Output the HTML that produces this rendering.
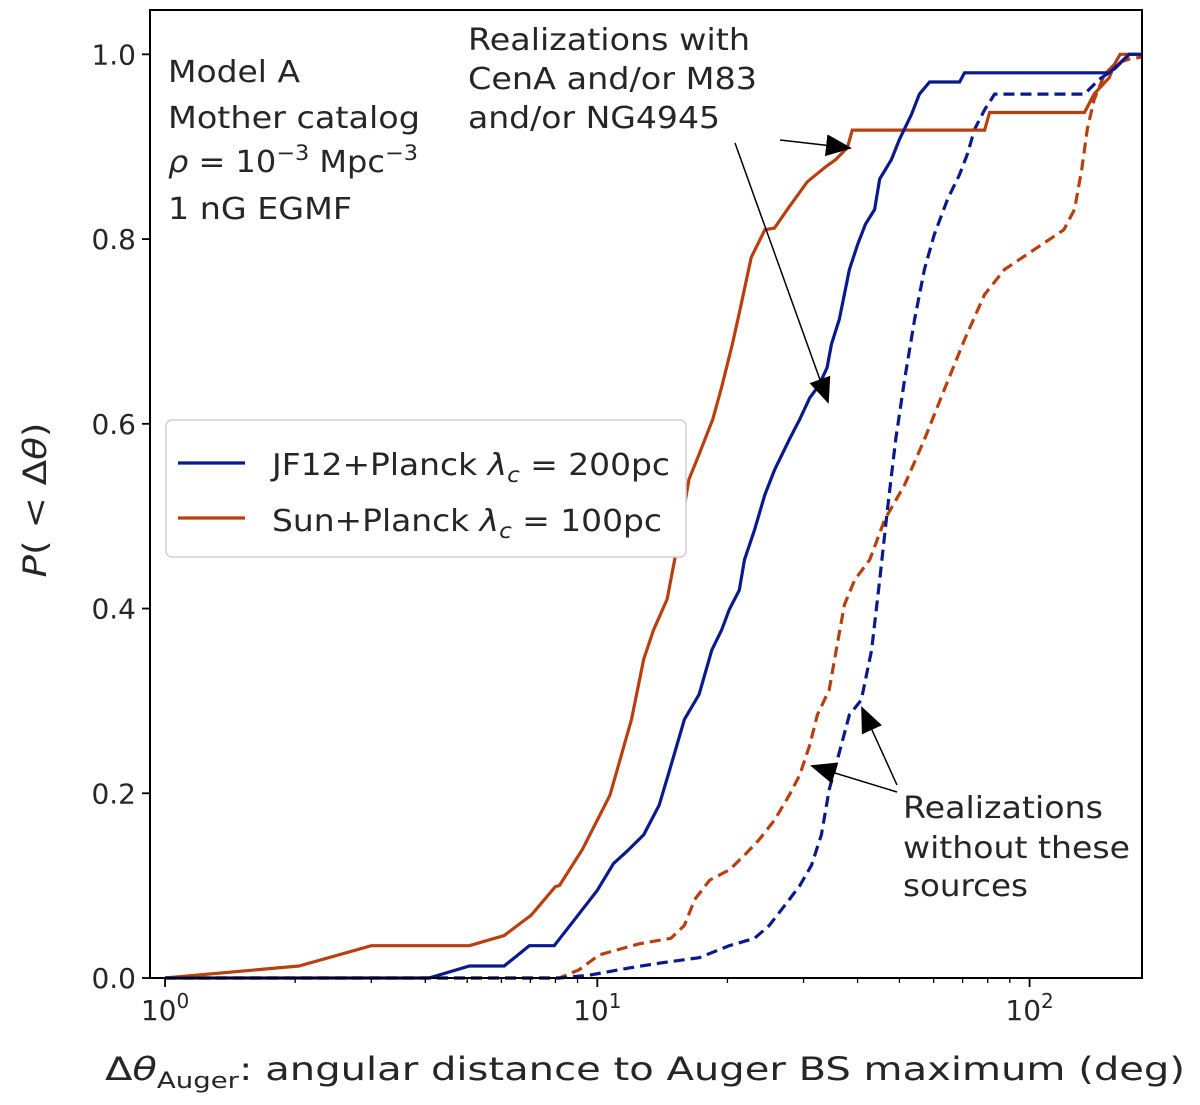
<!DOCTYPE html>
<html><head><meta charset="utf-8"><style>
html,body{margin:0;padding:0;background:#fff;}
svg text{font-family:"DejaVu Sans","Liberation Sans",sans-serif;fill:#262626;}
</style></head><body>
<svg id="chart" width="1200" height="1100" viewBox="0 0 1200 1100" xmlns="http://www.w3.org/2000/svg">
<g id="plot"></g>
</svg>
<script>
const orangeSolidX=[1,2.04,3.0,5.06,6.09,7.03,8.0,8.17,9.23,10,10.7,12.0,12.8,13.5,14.5,15.1,15.7,16.3,17.2,18.5,19.4,20.5,21.3,22.7,24.4,25.7,27.8,30.6,33.7,35.6,37.9,38.9,78.7,80.8,134,141,153,157,162,182];
const orangeSolidY=[0,0.013,0.035,0.035,0.046,0.068,0.099,0.1,0.139,0.171,0.198,0.28,0.345,0.377,0.41,0.453,0.496,0.54,0.567,0.605,0.64,0.685,0.72,0.78,0.81,0.812,0.835,0.862,0.878,0.886,0.899,0.918,0.918,0.937,0.937,0.957,0.975,0.989,1.0,1.0];
const blueSolidX=[1,4.08,5.06,6.09,6.96,7.95,8.85,10,10.9,11.7,12.8,13.9,14.7,15.9,17.2,18.4,19.4,20.2,21.3,21.9,23.1,24.4,25.7,27.8,29.4,31.0,32.6,34.0,34.8,36.3,38.3,40.0,41.7,43.8,45.0,47.9,50.0,53.3,55.6,58.7,68.9,70.7,153,170,182];
const blueSolidY=[0,0,0.013,0.013,0.035,0.035,0.063,0.095,0.124,0.137,0.155,0.187,0.225,0.28,0.307,0.355,0.377,0.399,0.42,0.453,0.485,0.523,0.55,0.583,0.605,0.628,0.642,0.661,0.686,0.713,0.767,0.794,0.816,0.832,0.865,0.886,0.908,0.935,0.957,0.97,0.97,0.98,0.98,1.0,1.0];
const blueDashX=[1,8.17,9.58,11.9,13.9,17.2,20.2,23.1,25.0,27.8,29.4,31.3,33.0,34.4,35.9,38.3,40.8,43.1,45.0,46.9,49.0,51.4,54.2,57.1,60.2,64.6,68.9,71.8,74.6,78.7,83.0,134,145,157,170,182];
const blueDashY=[0,0,0.003,0.011,0.016,0.022,0.035,0.043,0.057,0.085,0.1,0.122,0.155,0.204,0.236,0.285,0.301,0.355,0.431,0.507,0.583,0.648,0.713,0.767,0.805,0.843,0.87,0.892,0.919,0.94,0.957,0.957,0.973,0.984,1,1];
const orangeDashX=[1,8.17,9.08,10.1,12.5,14.8,15.9,16.8,18.2,20.2,21.9,23.7,25.7,27.8,29.4,31.0,32.3,34.4,35.4,37.3,39.4,42.7,46.2,51.4,57.1,63.5,70.7,78.7,87.5,102.8,120,127,132,136,141,149,157,170,182];
const orangeDashY=[0,0,0.009,0.025,0.037,0.043,0.057,0.085,0.106,0.117,0.133,0.15,0.171,0.198,0.22,0.252,0.285,0.312,0.345,0.404,0.431,0.453,0.496,0.534,0.583,0.637,0.691,0.74,0.767,0.789,0.81,0.832,0.875,0.919,0.951,0.978,0.989,0.995,0.997];
const yTicks=[0,0.2,0.4,0.6,0.8,1.0];
const yTickLabels=["0.0","0.2","0.4","0.6","0.8","1.0"];
const xMajor=[1,10,100];

const NS="http://www.w3.org/2000/svg";
const L=150,R=1142,T=10,B=978;
const xmin=0.923,xmax=182,ymin=0,ymax=1.048;
function sx(v){return L+(Math.log10(v)-Math.log10(xmin))/(Math.log10(xmax)-Math.log10(xmin))*(R-L);}
function sy(v){return B-(v-ymin)/(ymax-ymin)*(B-T);}
const svg=document.getElementById('chart');
function mk(tag,attrs,parent){const e=document.createElementNS(NS,tag);for(const k in attrs)e.setAttribute(k,attrs[k]);(parent||svg).appendChild(e);return e;}

const BLUE="#0a1a8c",ORANGE="#b8400e";
function series(xs,ys,color,dash,name){
  const d=xs.map((x,i)=>(i?'L':'M')+sx(x).toFixed(1)+','+sy(ys[i]).toFixed(1)).join(' ');
  const p=mk('path',{d:d,fill:'none',stroke:color,'stroke-width':3.2,'stroke-dasharray':dash||'none','stroke-linejoin':'miter'});
  
  
}
series(orangeDashX,orangeDashY,ORANGE,'11,6','sun-planck-without-sources-line');
series(blueDashX,blueDashY,BLUE,'11,6','jf12-planck-without-sources-line');
series(orangeSolidX,orangeSolidY,ORANGE,null,'sun-planck-line');
series(blueSolidX,blueSolidY,BLUE,null,'jf12-planck-line');

const fr=mk('rect',{x:L,y:T,width:R-L,height:B-T,fill:'none',stroke:'#000','stroke-width':2});



yTicks.forEach((v,i)=>{
  const y=sy(v);
  const t=mk('line',{x1:L-8,x2:L,y1:y,y2:y,stroke:'#000','stroke-width':1.8});
  
  
  const lb=mk('text',{x:L-14,y:y+10,'text-anchor':'end','font-size':28});
  lb.textContent=yTickLabels[i];
  
  
});
for(let dec=0;dec<=2;dec++){
  for(let m=1;m<=9;m++){
    const v=m*Math.pow(10,dec);
    if(v<xmin||v>xmax)continue;
    const x=sx(v);const major=(m===1);
    const t=mk('line',{x1:x,x2:x,y1:B,y2:B+(major?9:5),stroke:'#000','stroke-width':major?1.8:1.3});
    
    
  }
}
xMajor.forEach((v,i)=>{
  const x=sx(v);
  const lb=mk('text',{x:x,y:1020,'text-anchor':'middle','font-size':28});
  lb.innerHTML='10<tspan dy="-12" font-size="20">'+i+'</tspan>';
  
  
});
</script>
<svg width="1200" height="1100" style="position:absolute;left:0;top:0" xmlns="http://www.w3.org/2000/svg">
<defs><marker id="ah2" markerWidth="26" markerHeight="22" refX="24" refY="11" orient="auto" markerUnits="userSpaceOnUse" viewBox="0 0 26 22"><path d="M0,0 L26,11 L0,22 z" fill="#000" stroke="none"/></marker></defs>
<g font-family="DejaVu Sans, Liberation Sans, sans-serif" fill="#262626" font-size="30" lengthAdjust="spacingAndGlyphs">
<text x="168" y="82" textLength="132" lengthAdjust="spacingAndGlyphs">Model A</text>
<text x="168" y="128" textLength="252" lengthAdjust="spacingAndGlyphs">Mother catalog</text>
<text x="168" y="172" textLength="250" lengthAdjust="spacingAndGlyphs"><tspan font-style="italic">ρ</tspan> = 10<tspan dy="-12" font-size="21">−3</tspan><tspan dy="12"> Mpc</tspan><tspan dy="-12" font-size="21">−3</tspan></text>
<text x="168" y="219" textLength="184" lengthAdjust="spacingAndGlyphs">1 nG EGMF</text>
<text x="468" y="50" textLength="282" lengthAdjust="spacingAndGlyphs">Realizations with</text>
<text x="468" y="89" textLength="289" lengthAdjust="spacingAndGlyphs">CenA and/or M83</text>
<text x="468" y="128" textLength="252" lengthAdjust="spacingAndGlyphs">and/or NG4945</text>
<text x="903" y="818" textLength="200" lengthAdjust="spacingAndGlyphs">Realizations</text>
<text x="903" y="858" textLength="227" lengthAdjust="spacingAndGlyphs">without these</text>
<text x="903" y="896" textLength="125" lengthAdjust="spacingAndGlyphs">sources</text>
</g>
<g stroke="#000" stroke-width="1.5" fill="none">
<line x1="780" y1="140" x2="850" y2="148" marker-end="url(#ah2)"/>
<line x1="735" y1="143" x2="828" y2="402" marker-end="url(#ah2)"/>
<line x1="897" y1="792" x2="812" y2="766" marker-end="url(#ah2)"/>
<line x1="897" y1="785" x2="862" y2="708" marker-end="url(#ah2)"/>
</g>
<g>
<rect x="166" y="420" width="520" height="137" rx="6" fill="#fff" stroke="#d0d0d0" stroke-width="1.5"/>
<line x1="178" y1="463" x2="245" y2="463" stroke="#0a1a8c" stroke-width="3.2"/>
<line x1="178" y1="518" x2="245" y2="518" stroke="#b8400e" stroke-width="3.2"/>
<text x="272" y="475" font-size="30" textLength="398" lengthAdjust="spacingAndGlyphs" font-family="DejaVu Sans, Liberation Sans, sans-serif" fill="#262626">JF12+Planck <tspan font-style="italic">λ</tspan><tspan font-style="italic" font-size="21" dy="7">c</tspan><tspan dy="-7"> = 200pc</tspan></text>
<text x="272" y="531" font-size="30" textLength="390" lengthAdjust="spacingAndGlyphs" font-family="DejaVu Sans, Liberation Sans, sans-serif" fill="#262626">Sun+Planck <tspan font-style="italic">λ</tspan><tspan font-style="italic" font-size="21" dy="7">c</tspan><tspan dy="-7"> = 100pc</tspan></text>
</g>
<text x="105" y="1080" font-size="32" textLength="1080" lengthAdjust="spacingAndGlyphs" font-family="DejaVu Sans, Liberation Sans, sans-serif" fill="#262626">Δ<tspan font-style="italic">θ</tspan><tspan font-size="22" dy="8">Auger</tspan><tspan dy="-8">: angular distance to Auger BS maximum (deg)</tspan></text>
<text transform="translate(46,500) rotate(-90)" text-anchor="middle" font-size="32" textLength="155" lengthAdjust="spacingAndGlyphs" font-family="DejaVu Sans, Liberation Sans, sans-serif" fill="#262626"><tspan font-style="italic">P</tspan>( &lt; Δ<tspan font-style="italic">θ</tspan>)</text>
</svg>
</body></html>
